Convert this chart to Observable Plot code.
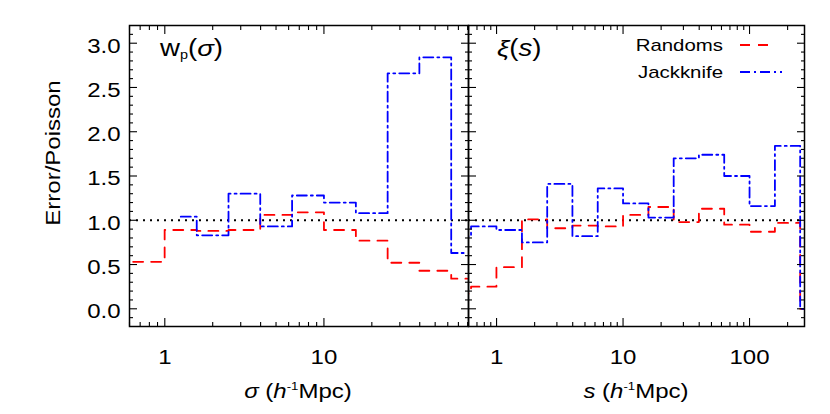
<!DOCTYPE html>
<html><head><meta charset="utf-8">
<script src="https://cdn.jsdelivr.net/npm/d3@7"></script>
<script src="https://cdn.jsdelivr.net/npm/@observablehq/plot@0.6"></script>
<style>
body{margin:0;background:#fff;}
#chart{position:relative;width:830px;height:414px;}
#chart svg{position:absolute;top:0;overflow:visible;background:transparent;}
</style></head><body><div id="chart"></div>
<script>
// ---- data (bin centres in h^-1 Mpc, ratio Error/Poisson) ----
const wpSigma      = [0.50, 0.79, 1.26, 2.00, 3.16, 5.01, 7.94, 12.6, 20.0, 31.6, 50.1, 79.4];
const wpRandoms    = [0.51, 0.53, 0.89, 0.88, 0.89, 1.06, 1.09, 0.89, 0.77, 0.52, 0.43, 0.34];
const wpJackknife  = [null, null, 1.04, 0.83, 1.30, 0.93, 1.28, 1.20, 1.08, 2.66, 2.84, 0.63];

const xiS          = [0.50, 0.79, 1.26, 2.00, 3.16, 5.01, 7.94, 12.6, 20.0, 31.6, 50.1, 79.4, 126, 200, 316];
const xiRandoms    = [0.17, 0.25, 0.47, 1.01, 0.91, 0.94, 0.93, 1.06, 1.15, 0.98, 1.13, 0.95, 0.87, 0.97, 0.00];
const xiJackknife  = [0.82, 0.93, 0.89, 0.75, 1.41, 0.82, 1.36, 1.19, 1.03, 1.70, 1.74, 1.50, 1.16, 1.84, 0.00];

const poissonLevel = [1];
const yMajor = [0, 0.5, 1, 1.5, 2, 2.5, 3];
const yMinor = [-0.1, 0.1, 0.2, 0.3, 0.4, 0.6, 0.7, 0.8, 0.9, 1.1, 1.2, 1.3, 1.4, 1.6, 1.7, 1.8, 1.9,
                2.1, 2.2, 2.3, 2.4, 2.6, 2.7, 2.8, 2.9, 3.1];
const wpMajor = [1, 10];
const wpMinor = [0.6, 0.7, 0.8, 0.9, 2, 3, 4, 5, 6, 7, 8, 9, 20, 30, 40, 50, 60, 70, 80];
const xiMajor = [1, 10, 100];
const xiMinor = [0.6, 0.7, 0.8, 0.9, 2, 3, 4, 5, 6, 7, 8, 9, 20, 30, 40, 50, 60, 70, 80, 90, 200];
const seriesNames = ["Randoms", "Jackknife"];

// ---- styling ----
const FONT = "'Liberation Sans', Arial, Helvetica, sans-serif";
const RED = "#ff0000", BLUE = "#0000ff";
const redDash = "10,8", blueDash = "10,4,2,4", dotDash = "2,5";
const MAJ = 8, MIN = 4, STRETCH = 1.2;

const wpTable = wpSigma.map((x, i) => ({x, r: wpRandoms[i], j: wpJackknife[i]}));
const xiTable = xiS.map((x, i) => ({x, r: xiRandoms[i], j: xiJackknife[i]}));

function tickMarks(xMajor, xMinor) {
  const o = {tickFormat: () => "", label: null, strokeWidth: 1.1};
  return [
    Plot.axisX(xMajor, {...o, anchor: "bottom", tickSize: MAJ, dy: -MAJ}),
    Plot.axisX(xMinor, {...o, anchor: "bottom", tickSize: MIN, dy: -MIN}),
    Plot.axisX(xMajor, {...o, anchor: "top", tickSize: MAJ, dy: MAJ}),
    Plot.axisX(xMinor, {...o, anchor: "top", tickSize: MIN, dy: MIN}),
    Plot.axisY(yMajor, {...o, anchor: "left", tickSize: MAJ, dx: MAJ}),
    Plot.axisY(yMinor, {...o, anchor: "left", tickSize: MIN, dx: MIN}),
    Plot.axisY(yMajor, {...o, anchor: "right", tickSize: MAJ, dx: -MAJ}),
    Plot.axisY(yMinor, {...o, anchor: "right", tickSize: MIN, dx: -MIN})
  ];
}

function seriesMarks(table) {
  return [
    Plot.ruleY(poissonLevel, {stroke: "black", strokeWidth: 2, strokeDasharray: dotDash}),
    Plot.line(table, {x: "x", y: "r", curve: "step", stroke: RED, strokeWidth: 1.8, strokeDasharray: redDash, clip: true}),
    Plot.line(table, {x: "x", y: "j", curve: "step", stroke: BLUE, strokeWidth: 1.8, strokeDasharray: blueDash, clip: true}),
    Plot.frame({stroke: "black", strokeWidth: 1.5})
  ];
}

const base = {
  height: 414, marginTop: 25, marginBottom: 88,
  y: {domain: [-0.2, 3.2]},
  style: {fontFamily: FONT, fontSize: "20px", background: "transparent", color: "black"}
};

const left = Plot.plot({
  ...base,
  width: 469, marginLeft: 129, marginRight: 1,
  x: {type: "log", domain: [0.6, 81]},
  marks: [
    ...seriesMarks(wpTable),
    ...tickMarks(wpMajor, wpMinor),
    Plot.axisY(yMajor, {anchor: "left", tickSize: 0, tickPadding: 9, dy: 3, fontSize: 20,
                        tickFormat: d3.format(".1f"), label: null}),
    Plot.axisX(wpMajor, {anchor: "bottom", tickSize: 0, tickPadding: 23, fontSize: 20,
                         tickFormat: d => String(d), label: null})
  ]
});

const right = Plot.plot({
  ...base,
  width: 362, marginLeft: 0, marginRight: 26,
  x: {type: "log", domain: [0.6, 272]},
  marks: [
    ...seriesMarks(xiTable),
    ...tickMarks(xiMajor, xiMinor),
    Plot.axisX(xiMajor, {anchor: "bottom", tickSize: 0, tickPadding: 23, fontSize: 20,
                         tickFormat: d => String(d), label: null})
  ]
});

const chart = document.getElementById("chart");
left.style.left = "0px";
right.style.left = "468px";
chart.appendChild(left);
chart.appendChild(right);

// ---- titles, panel labels and legend (rich text) ----
function addText(svg, x, y, parts, opts = {}) {
  const t = d3.select(svg).append("text")
    .attr("x", x).attr("y", y)
    .attr("text-anchor", opts.anchor || "start")
    .attr("font-size", opts.size || 20)
    .attr("font-family", FONT)
    .attr("fill", "black");
  if (opts.rotate) t.attr("transform", `rotate(${opts.rotate},${x},${y})`);
  for (const p of parts) {
    const s = t.append("tspan").text(p.t);
    if (p.i) s.attr("font-style", "italic");
    if (p.size) s.attr("font-size", p.size);
    if (p.dy) s.attr("dy", p.dy);
  }
  return t;
}

// y title
addText(left, 60, 153, [{t: "Error/Poisson"}], {anchor: "middle", rotate: -90});
// x titles
addText(left, 298, 398, [{t: "σ", i: true}, {t: " ("}, {t: "h", i: true}, {t: "-1", size: 11, dy: -8}, {t: "Mpc)", dy: 8}], {anchor: "middle"});
addText(right, 636 - 468, 398, [{t: "s", i: true}, {t: " ("}, {t: "h", i: true}, {t: "-1", size: 11, dy: -8}, {t: "Mpc)", dy: 8}], {anchor: "middle"});
// panel labels
addText(left, 160, 56, [{t: "w"}, {t: "p", size: 12, dy: 3}, {t: "(", dy: -3}, {t: "σ", i: true}, {t: ")"}], {size: 23});
addText(right, 497 - 468, 56, [{t: "ξ", i: true}, {t: "("}, {t: "s", i: true}, {t: ")"}], {size: 23});
// legend
const lg = d3.select(right);
addText(right, 723 - 468, 51, [{t: seriesNames[0]}], {anchor: "end", size: 17});
addText(right, 723 - 468, 78, [{t: seriesNames[1]}], {anchor: "end", size: 17});
lg.append("line").attr("x1", 740 - 468).attr("x2", 773 - 468).attr("y1", 45).attr("y2", 45)
  .attr("stroke", RED).attr("stroke-width", 1.8).attr("stroke-dasharray", redDash);
lg.append("line").attr("x1", 740 - 468).attr("x2", 782 - 468).attr("y1", 72).attr("y2", 72)
  .attr("stroke", BLUE).attr("stroke-width", 1.8).attr("stroke-dasharray", blueDash);

// horizontally widen glyphs to match the reference's broad type
for (const svg of [left, right]) {
  svg.querySelectorAll("text").forEach(t => {
    if (!t.textContent.trim()) return;
    const L = t.getComputedTextLength();
    if (L > 0) {
      t.setAttribute("textLength", (L * STRETCH).toFixed(2));
      t.setAttribute("lengthAdjust", "spacingAndGlyphs");
    }
  });
}
</script>
</body></html>
